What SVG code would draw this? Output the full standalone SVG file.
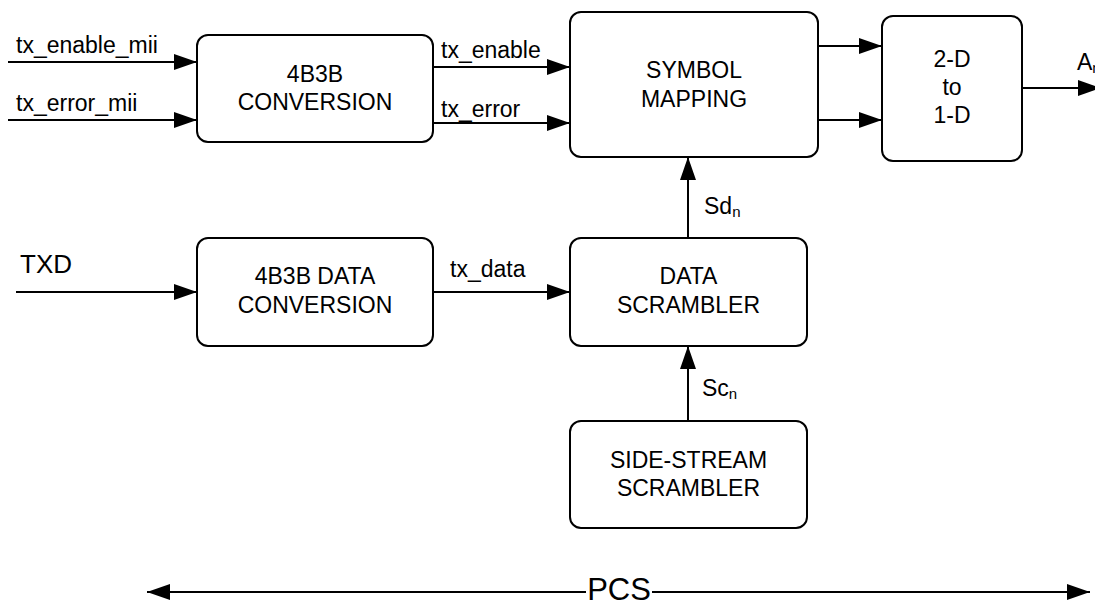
<svg xmlns="http://www.w3.org/2000/svg" width="1095" height="601" viewBox="0 0 1095 601">
<style>
.box{fill:#fff;stroke:#000;stroke-width:2}
.t{font-family:"Liberation Sans",Arial,sans-serif;font-size:23px;fill:#000}
.c{text-anchor:middle}
.w{stroke:#000;stroke-width:2;fill:none}
.a{marker-end:url(#ah)}
</style>
<defs>
<marker id="ah" markerUnits="userSpaceOnUse" markerWidth="24" markerHeight="16" refX="23" refY="8" orient="auto">
<path d="M0,0 L23,8 L0,16 z" fill="#000"/>
</marker>
</defs>
<rect width="1095" height="601" fill="#fff"/>
<g id="connectors">
<line class="w a" x1="8" y1="62" x2="197" y2="62"/>
<line class="w a" x1="8" y1="120" x2="197" y2="120"/>
<line class="w a" x1="433" y1="67" x2="570" y2="67"/>
<line class="w a" x1="433" y1="123" x2="570" y2="123"/>
<line class="w a" x1="818" y1="46" x2="882" y2="46"/>
<line class="w a" x1="818" y1="120" x2="882" y2="120"/>
<line class="w a" x1="1022" y1="88" x2="1101" y2="88"/>
<line class="w a" x1="16" y1="292" x2="197" y2="292"/>
<line class="w a" x1="433" y1="292" x2="570" y2="292"/>
<line class="w a" x1="688" y1="238" x2="688" y2="157"/>
<line class="w a" x1="688" y1="421" x2="688" y2="346"/>
<line class="w a" x1="586" y1="592" x2="147" y2="592"/>
<line class="w a" x1="652" y1="592" x2="1090" y2="592"/>
<text class="t" x="16" y="53">tx_enable_mii</text>
<text class="t" x="16" y="111">tx_error_mii</text>
<text class="t" x="441" y="58">tx_enable</text>
<text class="t" x="441" y="116.5">tx_error</text>
<text class="t" x="20" y="273" style="font-size:26px">TXD</text>
<text class="t" x="450" y="277">tx_data</text>
<text class="t" x="704" y="214">Sd<tspan style="font-size:15px" dy="3">n</tspan></text>
<text class="t" x="702" y="396">Sc<tspan style="font-size:15px" dy="3">n</tspan></text>
<text class="t" x="1077" y="70">A<tspan style="font-size:15px" dy="3">n</tspan></text>
<text class="t c" x="619" y="600" style="font-size:31px">PCS</text>
</g>
<g id="conv4b3b">
<rect class="box" x="197" y="35" width="236" height="107" rx="11"/>
<text class="t c" x="315" y="81.7">4B3B</text>
<text class="t c" x="315" y="110">CONVERSION</text>
</g>
<g id="symbolmap">
<rect class="box" x="570" y="12" width="248" height="145" rx="11"/>
<text class="t c" x="694" y="78.3">SYMBOL</text>
<text class="t c" x="694" y="106.7">MAPPING</text>
</g>
<g id="twod">
<rect class="box" x="882" y="16" width="140" height="145" rx="11"/>
<text class="t c" x="952" y="66.7">2-D</text>
<text class="t c" x="952" y="95">to</text>
<text class="t c" x="952" y="123.3">1-D</text>
</g>
<g id="dataconv">
<rect class="box" x="197" y="238" width="236" height="108" rx="11"/>
<text class="t c" x="315" y="284">4B3B DATA</text>
<text class="t c" x="315" y="312.5">CONVERSION</text>
</g>
<g id="datascr">
<rect class="box" x="570" y="238" width="237" height="108" rx="11"/>
<text class="t c" x="688.5" y="284">DATA</text>
<text class="t c" x="688.5" y="312.5">SCRAMBLER</text>
</g>
<g id="sidescr">
<rect class="box" x="570" y="421" width="237" height="107" rx="11"/>
<text class="t c" x="688.5" y="468">SIDE-STREAM</text>
<text class="t c" x="688.5" y="496">SCRAMBLER</text>
</g>
</svg>
